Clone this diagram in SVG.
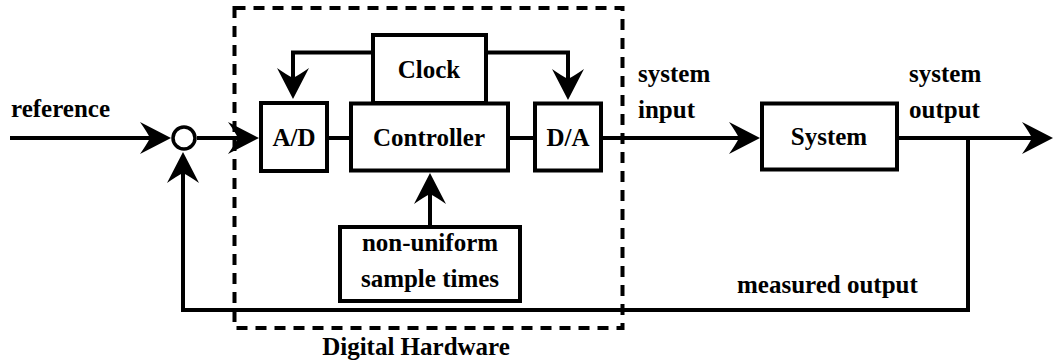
<svg xmlns="http://www.w3.org/2000/svg" width="1055" height="362" viewBox="0 0 1055 362">
<style>
.box{fill:#fff;stroke:#000;stroke-width:4}
.ln{fill:none;stroke:#000;stroke-width:4}
.ar{marker-end:url(#ah)}
.c{text-anchor:middle}
</style>
<defs>
<marker id="ah" markerUnits="userSpaceOnUse" viewBox="-32 -17 33 34" markerWidth="33" markerHeight="34" refX="-20" refY="0" orient="auto">
<path d="M0,0 L-31,-16 Q-24,-6 -21,0 Q-24,6 -31,16 Z" fill="#000"/>
</marker>
</defs>
<rect width="1055" height="362" fill="#fff"/>
<g id="connectors">
<path class="ln ar" d="M10,138 H151"/>
<path class="ln ar" d="M197,138 H239"/>
<path class="ln" d="M327,138 H351"/>
<path class="ln" d="M508,138 H535"/>
<path class="ln ar" d="M602,138 H740"/>
<path class="ln ar" d="M897,138 H1033"/>
<path class="ln ar" d="M968,138 V310 H183 V172"/>
<path class="ln ar" d="M373,52.5 H293 V79"/>
<path class="ln ar" d="M486,52.5 H568 V80"/>
<path class="ln ar" d="M430,227 V193"/>
</g>
<g font-family="'Liberation Serif', 'Times New Roman', serif" font-weight="bold" font-size="25" fill="#000">
<g id="hardware">
<rect x="234.5" y="8" width="388" height="320" fill="none" stroke="#000" stroke-width="4" stroke-dasharray="11 8"/>
<text x="416" y="355" class="c">Digital Hardware</text>
</g>
<g id="sum">
<circle cx="184" cy="138" r="11" fill="#fff" stroke="#000" stroke-width="3.5"/>
</g>
<g id="ad">
<rect class="box" x="261" y="103" width="66" height="68"/>
<text x="294" y="146" class="c">A/D</text>
</g>
<g id="clock">
<rect class="box" x="373" y="35" width="113" height="68"/>
<text x="429" y="78" class="c">Clock</text>
</g>
<g id="controller">
<rect class="box" x="351" y="103.5" width="157" height="67"/>
<text x="429" y="146" class="c">Controller</text>
</g>
<g id="da">
<rect class="box" x="535" y="103.5" width="66" height="67"/>
<text x="568" y="146" class="c">D/A</text>
</g>
<g id="system">
<rect class="box" x="762" y="103.5" width="135" height="66"/>
<text x="829" y="145" class="c">System</text>
</g>
<g id="sampletimes">
<rect class="box" x="340" y="227" width="180" height="74"/>
<text x="430" y="251" class="c">non-uniform</text>
<text x="430" y="287" class="c">sample times</text>
</g>
<g id="labels">
<text x="11" y="117">reference</text>
<text x="638" y="82">system</text>
<text x="638" y="118">input</text>
<text x="909" y="82">system</text>
<text x="909" y="118">output</text>
<text x="737" y="293">measured output</text>
</g>
</g>
</svg>
